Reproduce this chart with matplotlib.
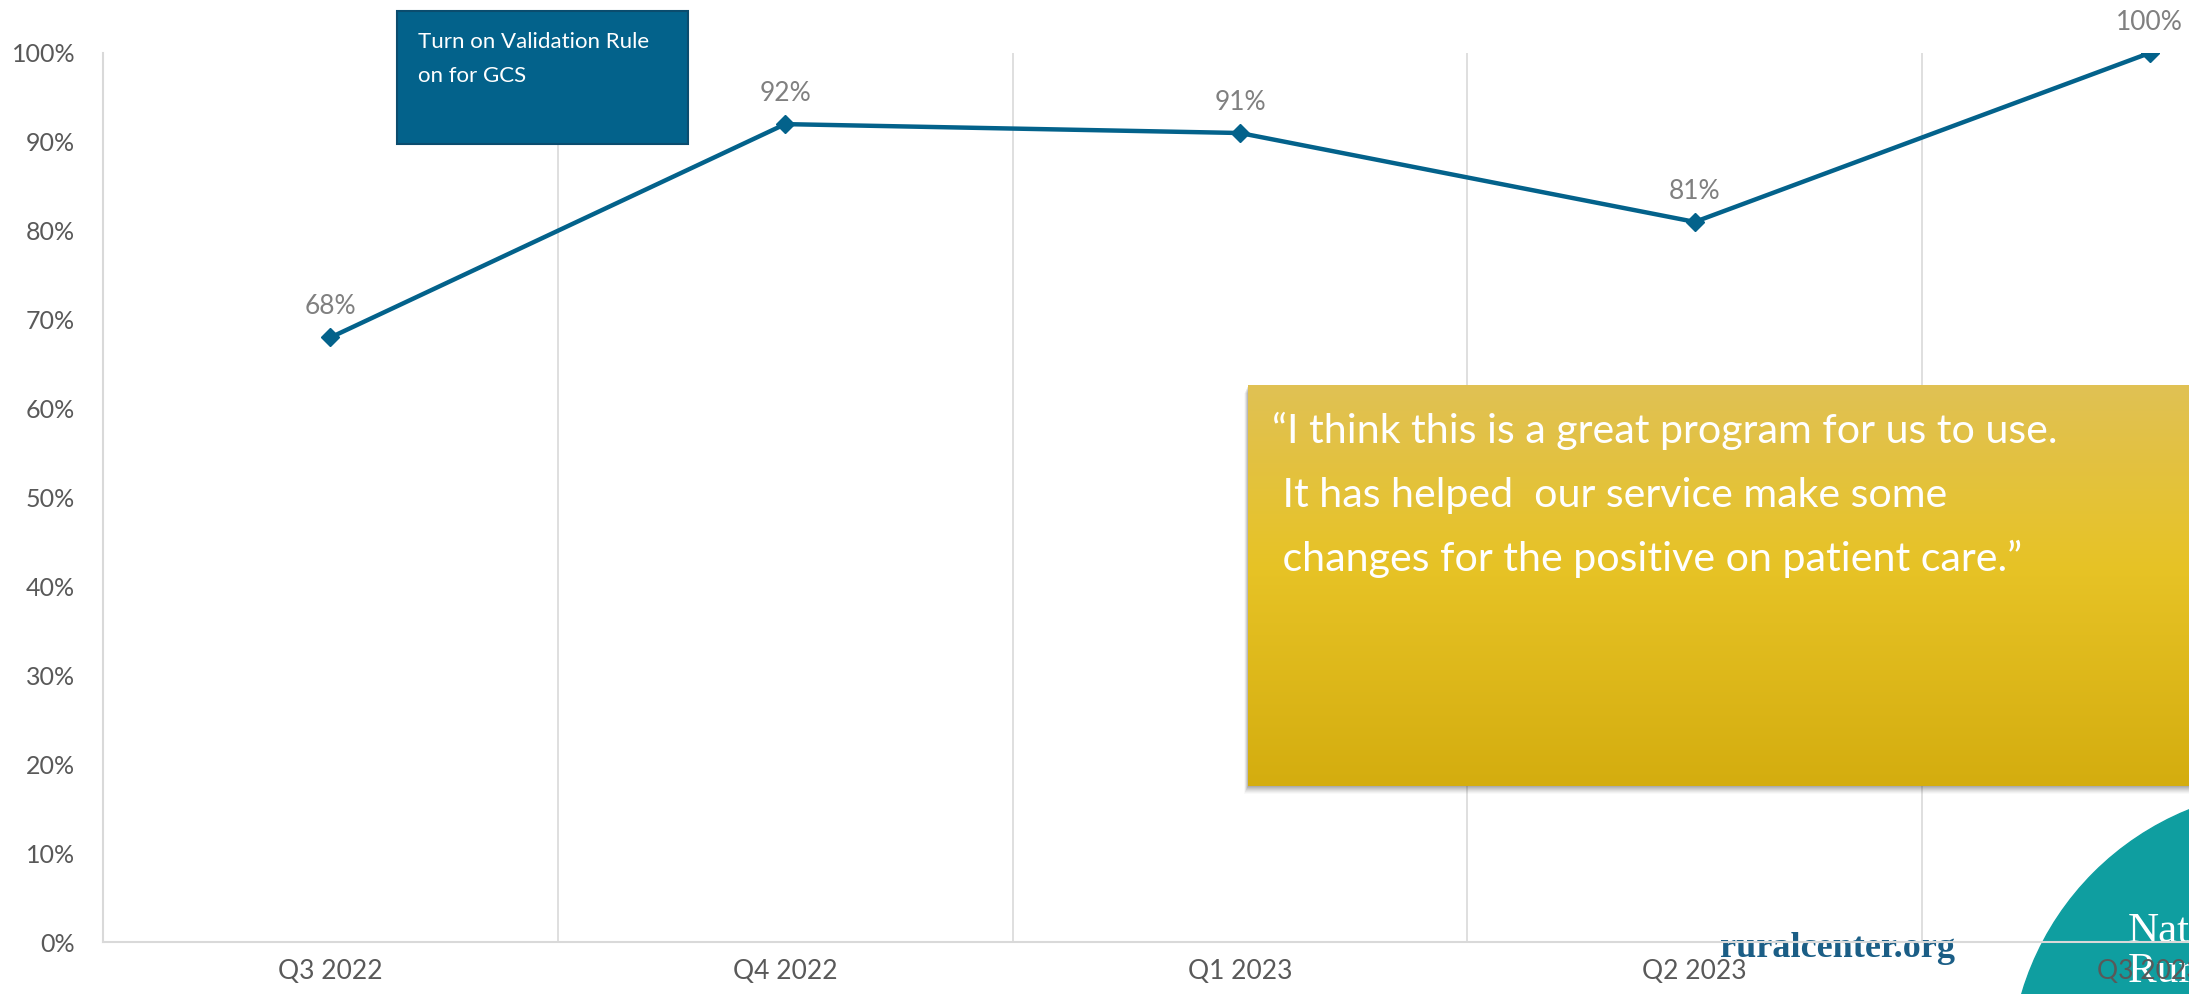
import numpy as np
import matplotlib.pyplot as plt
from matplotlib.patches import Rectangle, Circle

# 数据
quarters = ['Q3 2022', 'Q4 2022', 'Q1 2023', 'Q2 2023', 'Q3 2023']
compliance = [0.68, 0.92, 0.91, 0.81, 1.00]
y_ticks = [0, 0.1, 0.2, 0.3, 0.4, 0.5, 0.6, 0.7, 0.8, 0.9, 1.0]

note_lines = ['Turn on Validation Rule', 'on for GCS']
quote_lines = ['“I think this is a great program for us to use.',
               ' It has helped  our service make some',
               ' changes for the positive on patient care.”']

plt.rcParams['font.family'] = ['Lato', 'DejaVu Sans']

W, H = 2189, 994
fig = plt.figure(figsize=(W / 100, H / 100), dpi=100)

# 背景层：右下角的 logo
bg = fig.add_axes([0, 0, 1, 1], zorder=0)
bg.set_xlim(0, W)
bg.set_ylim(H, 0)
bg.axis('off')
bg.add_patch(Circle((2296, 1075), 286, color='#0f9ea0'))
bg.text(2128, 942, 'National', color='white', fontsize=31, family='Liberation Serif')
bg.text(2128, 982, 'Rural Health', color='white', fontsize=31, family='Liberation Serif')
bg.text(2128, 1012, 'Resource Center', color='white', fontsize=20, family='Liberation Serif')
bg.text(1720, 957, 'ruralcenter.org', color='#1b5e86', fontsize=26,
        family='Liberation Serif', fontweight='bold')

# 折线图
ax = fig.add_axes([103 / W, (H - 942) / H, 5 * 454.8 / W, (942 - 53) / H], zorder=1)
ax.patch.set_alpha(0)
x = np.arange(len(quarters))
ax.plot(x, compliance, color='#03628b', lw=3.2, marker='D', ms=9, zorder=3)
for xi, v in zip(x, compliance):
    ax.annotate(f'{v:.0%}', (xi, v), xytext=(0, 13), textcoords='offset points',
                ha='center', va='bottom', fontsize=19, color='#808080')

ax.set_xlim(-0.5, len(quarters) - 0.5)
ax.set_ylim(0, 1)
ax.set_xticks(x)
ax.set_xticklabels(quarters, fontsize=19, color='#595959')
ax.set_xticks(x[:-1] + 0.5, minor=True)
ax.set_yticks(y_ticks)
ax.set_yticklabels([f'{round(v * 100)}%' for v in y_ticks], fontsize=18, color='#595959')
ax.grid(axis='x', which='minor', color='#d9d9d9', lw=1.2)
ax.tick_params(which='both', length=0)
ax.tick_params(axis='y', pad=20)
ax.tick_params(axis='x', pad=12)
for s in ['top', 'right']:
    ax.spines[s].set_visible(False)
for s in ['left', 'bottom']:
    ax.spines[s].set_color('#d9d9d9')
    ax.spines[s].set_linewidth(1.5)

# 上层：注释框和引用框
ov = fig.add_axes([0, 0, 1, 1], zorder=2)
ov.axis('off')
ov.patch.set_alpha(0)

ov.add_patch(Rectangle((397, 11), 291, 133, facecolor='#03628b', edgecolor='#0b4c6e', lw=1.5))
for i, line in enumerate(note_lines):
    ov.text(418, 48 + i * 34, line, color='white', fontsize=16, va='baseline')

# 阴影
for k, a in zip(range(8, 0, -1), [0.03, 0.04, 0.05, 0.06, 0.07, 0.08, 0.09, 0.1]):
    ov.add_patch(Rectangle((1248 - k * 0.5, 385 + k), 1000, 401, facecolor='#404040',
                           edgecolor='none', alpha=a))

# 渐变填充
stops = np.array([[224, 193, 84], [231, 195, 38], [212, 173, 15]]) / 255
t = np.linspace(0, 1, 200)
grad = np.stack([np.interp(t, [0, 0.45, 1], stops[:, c]) for c in range(3)], axis=1)
ov.imshow(grad[:, None, :], extent=[1248, 2200, 786, 385], aspect='auto', zorder=3)
ov.set_xlim(0, W)
ov.set_ylim(H, 0)

qt = [ov.text(1272, 443 + i * 64, line, color='white', fontsize=27,
              va='baseline', zorder=4) for i, line in enumerate(quote_lines)]
# 按参考图第一行宽度(约787px)调整字号
fig.canvas.draw()
w = qt[0].get_window_extent(fig.canvas.get_renderer()).width
for tx in qt:
    tx.set_fontsize(27 * 787 / w)

fig.savefig('out.png', dpi=100)
